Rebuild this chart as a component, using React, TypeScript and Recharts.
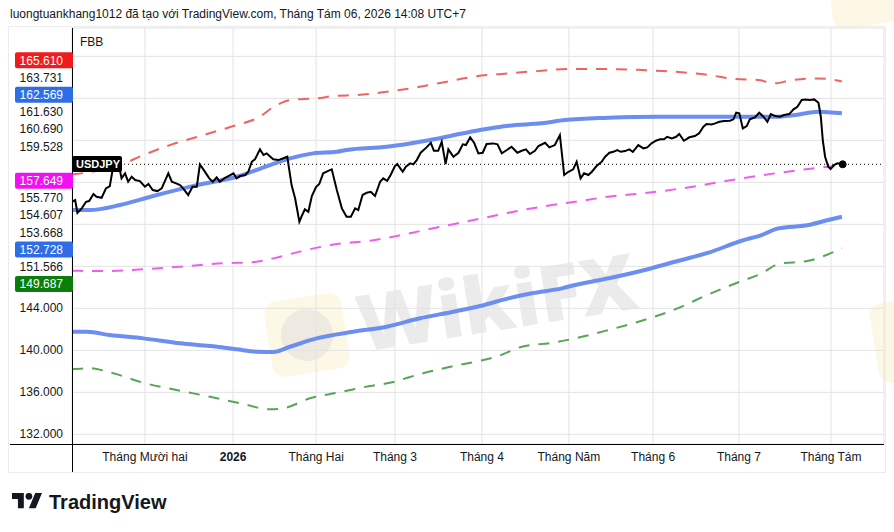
import React from "react";
import {
  LineChart,
  Line,
  XAxis,
  YAxis,
  CartesianGrid,
  ReferenceLine,
  ReferenceDot,
} from "recharts";

const FONT = '"Liberation Sans", Arial, sans-serif';
const TEXT = "#131722";

// x axis: trading-bar index (first bar = early Nov 2025)
const monthTicks = [18.7, 41.3, 62.6, 82.8, 105.1, 127.4, 149.0, 171.0, 194.6];
const monthLabels = [
  "Tháng Mười hai",
  "2026",
  "Tháng Hai",
  "Tháng 3",
  "Tháng 4",
  "Tháng Năm",
  "Tháng 6",
  "Tháng 7",
  "Tháng Tám",
];
const priceTicks = [132, 136, 140, 144, 148, 152, 156, 160, 164, 168];

// USDJPY close
const priceBars = [
  0, 0.8, 1.4, 2.5, 3.6, 4.4, 5.5, 6.3, 7.6, 8.7, 9.7, 10.4, 11.0, 12.1, 12.7, 13.6, 14.4, 15.3, 16.2, 17.4,
  18.7, 19.6, 20.7, 21.9, 23.0, 24.7, 25.6, 26.7, 27.7, 28.5, 29.8, 30.9, 32.0, 32.8, 33.8, 35.2, 36.1, 37.1,
  37.9, 39.0, 40.1, 41.4, 42.2, 43.1, 44.4, 45.2, 46.1, 46.9, 48.2, 49.1, 49.9, 51.6, 52.9, 54.2, 55.2, 56.3,
  57.2, 58.3, 58.9, 59.7, 60.6, 61.5, 62.6, 63.4, 64.4, 65.7, 66.6, 67.9, 69.2, 70.4, 71.5, 72.6, 73.4, 74.5,
  75.6, 76.6, 77.7, 79.0, 79.8, 80.8, 81.7, 82.8, 83.4, 84.8, 85.6, 86.7, 87.5, 88.4, 89.4, 90.9, 92.0, 92.8,
  93.9, 94.8, 95.8, 96.5, 97.8, 99.1, 100.2, 101.0, 102.1, 103.1, 104.2, 105.3, 106.3, 108.0, 109.1, 110.2,
  111.5, 112.7, 114.2, 115.3, 116.4, 117.4, 118.7, 119.6, 121.3, 122.4, 123.8, 125.1, 126.2, 127.3, 128.5,
  129.4, 130.4, 131.3, 132.4, 133.3, 134.5, 135.8, 136.7, 137.8, 138.8, 139.8, 140.7, 141.8, 142.9, 143.8,
  145.2, 146.5, 147.5, 148.6, 149.7, 150.8, 151.8, 152.6, 153.8, 154.9, 155.7, 156.9, 158.3, 159.7, 160.8,
  161.9, 162.7, 164.0, 164.9, 166.0, 167.2, 168.7, 169.6, 170.3, 171.1, 172.0, 173.0, 173.8, 175.1, 176.2,
  177.3, 178.3, 179.2, 180.3, 181.5, 182.6, 183.9, 185.0, 186.0, 187.1, 188.0, 189.2, 190.3, 191.4, 192.0,
  192.5, 193.1, 193.9, 194.5, 195.4, 196.2, 197.6,
];
const priceValues = [
  154.15, 154.31, 153.1, 153.52, 154.15, 154.22, 154.89, 154.63, 154.53, 155.43, 155.65, 157.17, 157.96,
  157.49, 156.38, 156.86, 156.06, 156.53, 156.22, 156.12, 155.58, 155.84, 155.27, 155.17, 155.43, 156.86,
  156.06, 155.9, 155.74, 155.43, 154.79, 155.58, 155.58, 157.71, 157.17, 156.38, 156.06, 156.48, 156.06,
  156.38, 156.6, 156.86, 156.38, 156.6, 156.7, 157.01, 157.96, 158.19, 159.14, 158.6, 158.76, 158.19, 158.12,
  158.29, 158.44, 155.74, 154.48, 152.25, 152.79, 153.43, 153.2, 154.7, 155.58, 155.84, 156.86, 157.1, 157.24,
  155.27, 153.52, 152.72, 152.72, 153.52, 153.36, 154.79, 155.01, 155.1, 154.7, 156.06, 156.38, 156.15,
  156.7, 157.55, 157.74, 157.01, 157.49, 157.81, 157.71, 158.12, 158.82, 159.33, 159.77, 159.01, 159.01,
  159.87, 157.74, 159.14, 158.44, 158.82, 159.62, 159.55, 160.29, 159.77, 158.76, 158.82, 159.65, 159.71,
  159.62, 158.76, 159.08, 159.39, 158.82, 159.01, 159.14, 158.7, 159.01, 159.46, 159.77, 159.33, 159.55,
  160.5, 156.7, 157.01, 157.24, 157.96, 156.38, 156.86, 156.7, 157.01, 157.55, 157.96, 158.44, 158.82,
  158.91, 159.08, 158.91, 158.98, 159.14, 158.91, 159.55, 159.24, 159.33, 159.71, 159.96, 160.1, 160.1,
  160.34, 160.19, 160.34, 160.6, 159.96, 160.29, 160.41, 160.67, 161.3, 161.55, 161.52, 161.62, 161.77,
  161.84, 161.87, 162.0, 162.63, 162.57, 161.14, 161.36, 162.0, 162.19, 162.63, 162.25, 161.77, 162.5,
  162.31, 162.25, 162.41, 162.5, 162.95, 163.2, 163.84, 163.9, 163.84, 163.9, 163.58, 162.25, 160.03,
  158.44, 157.49, 157.27, 157.65, 157.81, 157.72,
];

// thick blue (upper average)
const upperMaBars = [0, 4.6, 12.3, 20.8, 32.0, 42.2, 50.8, 55.9, 61.8, 67.9, 70.4, 80.7, 85.9, 89.2, 91.8, 100.3, 104.6, 109.0, 111.9, 120.4, 126.4, 137.5, 150.3, 163.2, 176.0, 180.3, 185.4, 191.4, 197.4];
const upperMaValues = [153.36, 153.36, 153.84, 154.7, 155.74, 156.53, 157.65, 158.29, 158.76, 158.91, 159.08, 159.39, 159.65, 159.87, 160.03, 160.67, 160.98, 161.24, 161.39, 161.62, 161.93, 162.15, 162.25, 162.25, 162.25, 162.25, 162.41, 162.72, 162.57];

// thick blue (lower average)
const lowerMaBars = [0, 3.8, 9.7, 18.3, 27.7, 35.4, 42.2, 47.4, 51.6, 55.9, 62.7, 72.1, 80.7, 89.2, 97.8, 104.6, 111.9, 117.9, 125.6, 129.0, 137.5, 146.1, 154.6, 163.2, 171.7, 176.8, 181.1, 188.8, 193.1, 197.4];
const lowerMaValues = [141.77, 141.77, 141.46, 141.14, 140.67, 140.41, 140.1, 139.87, 139.84, 140.34, 141.14, 141.77, 142.25, 143.05, 143.68, 144.22, 144.95, 145.43, 145.9, 146.22, 146.86, 147.58, 148.44, 149.3, 150.44, 150.98, 151.62, 151.93, 152.34, 152.72];

// red dashed (upper band)
const upperBandBars = [0, 12.3, 18.3, 25.1, 33.7, 42.2, 47.4, 52.5, 55.9, 62.7, 67.9, 73.0, 80.7, 89.2, 96.1, 102.9, 111.9, 120.4, 127.3, 137.5, 146.1, 154.6, 163.2, 170.0, 176.0, 180.3, 184.5, 191.4, 197.4];
const upperBandValues = [156.75, 157.65, 158.6, 159.55, 160.5, 161.46, 162.1, 163.36, 163.84, 164.0, 164.25, 164.31, 164.63, 165.1, 165.58, 166.06, 166.38, 166.63, 166.79, 166.79, 166.7, 166.53, 166.22, 165.84, 165.74, 165.43, 165.74, 165.9, 165.61];

// magenta dashed (middle band)
const midBandBars = [0, 8.0, 19.2, 27.7, 38.8, 46.5, 51.6, 59.3, 67.9, 76.4, 83.3, 89.2, 105.1, 111.9, 120.4, 129.0, 137.5, 146.1, 154.6, 163.2, 171.7, 180.3, 188.8, 197.4];
const midBandValues = [147.58, 147.55, 147.74, 147.96, 148.29, 148.41, 148.76, 149.49, 150.12, 150.44, 150.89, 151.36, 152.57, 153.1, 153.68, 154.15, 154.63, 154.95, 155.33, 155.84, 156.38, 156.86, 157.27, 157.65];

// green dashed (lower band)
const lowerBandBars = [0, 4.6, 10.6, 18.3, 26.8, 35.4, 43.9, 50.8, 54.2, 61.0, 67.9, 76.4, 81.5, 89.2, 97.8, 104.6, 109.3, 115.3, 123.0, 129.0, 137.5, 146.1, 154.6, 163.2, 171.7, 176.8, 181.1, 188.8, 197.4];
const lowerBandValues = [138.19, 138.29, 137.81, 136.91, 136.22, 135.58, 134.89, 134.38, 134.48, 135.43, 135.96, 136.6, 136.91, 137.74, 138.5, 139.01, 139.46, 140.34, 140.72, 141.14, 141.93, 142.82, 143.9, 145.33, 146.6, 147.33, 148.22, 148.53, 149.71];

// price-scale labels stacked on the left axis
const sideLabels = [
  { text: "165.610", bg: "#f21b1b" },
  { text: "163.731", bg: "" },
  { text: "162.569", bg: "#2e6de6" },
  { text: "161.630", bg: "" },
  { text: "160.690", bg: "" },
  { text: "159.528", bg: "" },
  { text: "", bg: "" },
  { text: "157.649", bg: "#f20ff2" },
  { text: "155.770", bg: "" },
  { text: "154.607", bg: "" },
  { text: "153.668", bg: "" },
  { text: "152.728", bg: "#2e6de6" },
  { text: "151.566", bg: "" },
  { text: "149.687", bg: "#0b7d0b" },
];

const toPoints = (xs: number[], ys: number[]) => xs.map((x, i) => ({ x, v: ys[i] }));

const pricePts = toPoints(priceBars, priceValues);
const upperMaPts = toPoints(upperMaBars, upperMaValues);
const lowerMaPts = toPoints(lowerMaBars, lowerMaValues);
const upperBandPts = toPoints(upperBandBars, upperBandValues);
const midBandPts = toPoints(midBandBars, midBandValues);
const lowerBandPts = toPoints(lowerBandBars, lowerBandValues);
const lastIdx = priceBars.length - 1;

const MonthTick = (props: any) => {
  const { x, y, payload } = props;
  const i = monthTicks.indexOf(payload.value);
  const label = i >= 0 ? monthLabels[i] : "";
  return (
    <text
      x={x}
      y={y}
      dy={17}
      textAnchor="middle"
      fontFamily={FONT}
      fontSize={12}
      fontWeight={label === "2026" ? 700 : 400}
      fill={TEXT}
    >
      {label}
    </text>
  );
};

const PriceTick = (props: any) => {
  const { x, y, payload } = props;
  if (payload.value > 144) return <g />;
  return (
    <text x={x} y={y} dx={-9} dy={4} textAnchor="end" fontFamily={FONT} fontSize={12} fill={TEXT}>
      {payload.value.toFixed(3)}
    </text>
  );
};

const Watermark = () => (
  <svg width={894} height={532} style={{ position: "absolute", left: 0, top: 0 }}>
    <g transform="rotate(-9 307 335)">
      <rect x={268} y={297} width={78} height={76} rx={12} fill="#fcf1d0" opacity={0.55} />
      <circle cx={307} cy={335} r={26} fill="#e4e1de" opacity={0.6} />
    </g>
    <text
      x={362}
      y={352}
      transform="rotate(-9 362 352)"
      fontFamily='"Open Sans", "Liberation Sans", sans-serif'
      fontWeight={800}
      fontSize={78}
      fill="#dcdcdc"
      opacity={0.55}
    >
      WikiFX
    </text>
    <g transform="rotate(-9 870 -5)">
      <rect x={830} y={-45} width={80} height={70} rx={12} fill="#fcf1d0" opacity={0.55} />
    </g>
    <g transform="rotate(-9 905 340)">
      <rect x={874} y={300} width={80} height={80} rx={12} fill="#fcf1d0" opacity={0.55} />
    </g>
  </svg>
);

const Overlay = () => (
  <svg width={894} height={532} style={{ position: "absolute", left: 0, top: 0, pointerEvents: "none" }}>
    <text x={10} y={17.5} fontFamily={FONT} fontSize={12} fill={TEXT}>
      luongtuankhang1012 đã tạo với TradingView.com, Tháng Tám 06, 2026 14:08 UTC+7
    </text>
    <rect x={8.5} y={26.5} width={877} height={446} fill="none" stroke="#ececec" strokeWidth={1} />
    <line x1={72.5} y1={28} x2={72.5} y2={472} stroke="#000" strokeWidth={1} />
    <line x1={10} y1={444.5} x2={884} y2={444.5} stroke="#000" strokeWidth={1} />
    <text x={80} y={46} fontFamily={FONT} fontSize={12} fill={TEXT}>
      FBB
    </text>
    {sideLabels.map((l, i) => {
      const cy = 60.3 + i * 17.2;
      if (!l.text) return null;
      return (
        <g key={i}>
          {l.bg && <rect x={15} y={cy - 8} width={58} height={16} rx={2} fill={l.bg} />}
          <text
            x={63}
            y={cy + 4.3}
            textAnchor="end"
            fontFamily={FONT}
            fontSize={12}
            fill={l.bg ? "#ffffff" : TEXT}
          >
            {l.text}
          </text>
        </g>
      );
    })}
    <rect x={72} y={156} width={50} height={16} rx={2} fill="#000" />
    <text x={76} y={168} fontFamily={FONT} fontSize={11} fontWeight={700} fill="#fff">
      USDJPY
    </text>
    <g transform="translate(12 489.6) scale(0.845)" fill={TEXT}>
      <path d="M14 22H7V11H0V4h14v18zM28 22h-8l7.5-18h8L28 22z" />
      <circle cx={20} cy={8} r={4} />
    </g>
    <text x={49} y={509} fontFamily={FONT} fontSize={20} fontWeight={700} fill={TEXT}>
      TradingView
    </text>
  </svg>
);

export default function App() {
  return (
    <div style={{ position: "absolute", left: 0, top: 0, width: 894, height: 532, background: "#fff", overflow: "hidden" }}>
      <Watermark />
      <div style={{ position: "absolute", left: 0, top: 0 }}>
        <LineChart width={894} height={532} margin={{ top: 28, right: 10, bottom: 60, left: 8 }}>
          <CartesianGrid stroke="#e3e3e3" strokeWidth={1} />
          <XAxis
            type="number"
            dataKey="x"
            domain={[0, 208.2]}
            ticks={monthTicks}
            interval={0}
            allowDataOverflow
            axisLine={false}
            tickLine={false}
            tickSize={0}
            tickMargin={0}
            height={28}
            tick={<MonthTick />}
          />
          <YAxis
            type="number"
            domain={[131.08, 170.7]}
            ticks={priceTicks}
            interval={0}
            allowDataOverflow
            axisLine={false}
            tickLine={false}
            tickSize={0}
            tickMargin={0}
            width={64}
            tick={<PriceTick />}
          />
          <ReferenceLine y={priceValues[lastIdx]} stroke="#000" strokeWidth={1} strokeDasharray="1 3" />
          <Line data={lowerBandPts} dataKey="v" type="monotone" stroke="#58a458" strokeWidth={2} strokeDasharray="11 9" dot={false} isAnimationActive={false} />
          <Line data={midBandPts} dataKey="v" type="monotone" stroke="#ee5eee" strokeWidth={2} strokeDasharray="11 9" dot={false} isAnimationActive={false} />
          <Line data={upperBandPts} dataKey="v" type="monotone" stroke="#ef6363" strokeWidth={2} strokeDasharray="11 9" dot={false} isAnimationActive={false} />
          <Line data={lowerMaPts} dataKey="v" type="monotone" stroke="#6b8ef0" strokeWidth={4} dot={false} isAnimationActive={false} />
          <Line data={upperMaPts} dataKey="v" type="monotone" stroke="#6b8ef0" strokeWidth={4} dot={false} isAnimationActive={false} />
          <Line data={pricePts} dataKey="v" type="linear" stroke="#000" strokeWidth={2} dot={false} isAnimationActive={false} />
          <ReferenceDot x={priceBars[lastIdx]} y={priceValues[lastIdx]} r={3.5} fill="#000" stroke="#000" />
        </LineChart>
      </div>
      <Overlay />
    </div>
  );
}
